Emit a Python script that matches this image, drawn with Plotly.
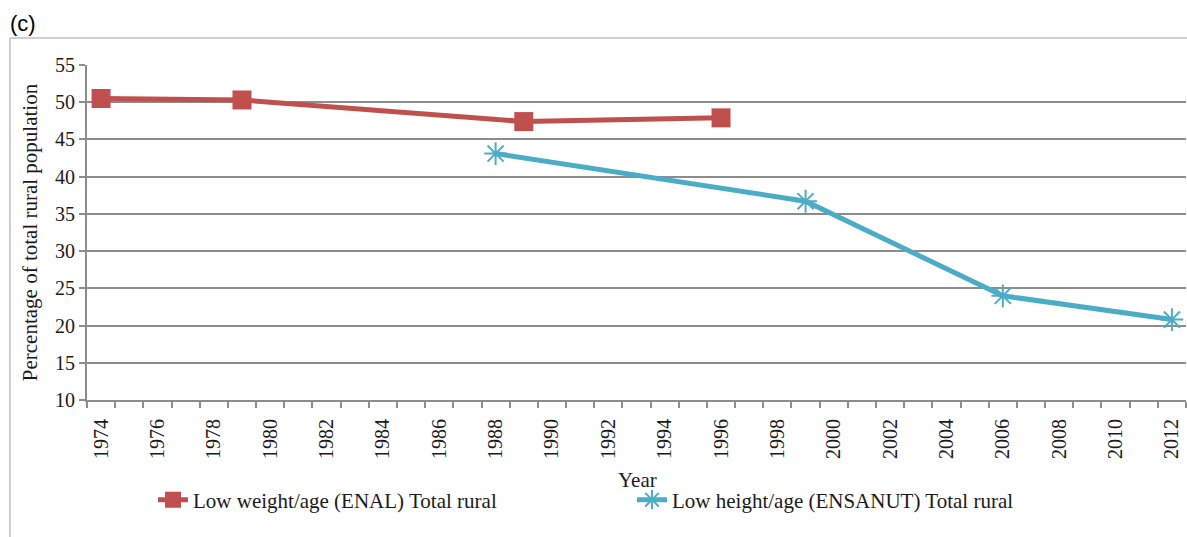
import plotly.graph_objects as go

# Datos (c)
years_enal = [1974, 1979, 1989, 1996]
low_weight_enal = [50.5, 50.3, 47.4, 47.9]

years_ensanut = [1988, 1999, 2006, 2012]
low_height_ensanut = [43.1, 36.7, 24.0, 20.8]

serif = "Liberation Serif, Times New Roman, serif"
grid_gray = "#8c8c8c"
fs = 20

fig = go.Figure()

fig.add_trace(go.Scatter(
    x=years_enal, y=low_weight_enal,
    mode="lines+markers",
    name="Low weight/age (ENAL) Total rural",
    line=dict(color="#C0504D", width=5),
    marker=dict(symbol="square", size=19, color="#C0504D"),
))

fig.add_trace(go.Scatter(
    x=years_ensanut, y=low_height_ensanut,
    mode="lines+markers",
    name="Low height/age (ENSANUT) Total rural",
    line=dict(color="#4BACC6", width=5),
    marker=dict(symbol="asterisk-open", size=19, color="#4BACC6",
                line=dict(color="#4BACC6", width=2)),
))

fig.update_layout(
    width=1187, height=537,
    margin=dict(l=87, r=1, t=65, b=137, autoexpand=False),
    plot_bgcolor="white", paper_bgcolor="white",
    font=dict(family=serif, size=fs, color="#1a1a1a"),
    showlegend=True,
    legend=dict(orientation="h", x=153 / 1187, xref="container", xanchor="left",
                y=1 - 500 / 537, yref="container", yanchor="middle",
                font=dict(family=serif, size=21), entrywidth=434,
                bgcolor="rgba(0,0,0,0)"),
)

fig.update_xaxes(
    range=[1973.5, 2012.5], automargin=False,
    tick0=1974, dtick=2, tickangle=-90, ticklabelstandoff=9,
    ticks="", showgrid=False,
    showline=True, linecolor=grid_gray, linewidth=2,
    minor=dict(ticks="outside", tick0=1973.5, dtick=1, ticklen=6,
               tickcolor=grid_gray, tickwidth=2, showgrid=False),
    tickfont=dict(family=serif, size=fs),
    zeroline=False,
)

fig.update_yaxes(
    range=[10, 55], tick0=10, dtick=5, automargin=False,
    showgrid=True, gridcolor=grid_gray, gridwidth=2,
    showline=True, linecolor=grid_gray, linewidth=2,
    ticks="outside", ticklen=6, tickcolor=grid_gray, tickwidth=2,
    tickfont=dict(family=serif, size=fs),
    title=dict(text="Percentage of total rural population",
               font=dict(family=serif, size=21), standoff=12),
    zeroline=False,
)

# Título del eje x, más abajo que la posición por defecto
fig.add_annotation(text="Year", xref="paper", yref="paper",
                   x=0.5005, y=-0.239, xanchor="center", yanchor="middle",
                   showarrow=False, font=dict(family=serif, size=21))

# Marco exterior del área del gráfico y etiqueta del panel
fig.add_shape(type="line", xref="paper", yref="paper",
              x0=-0.0701, x1=1.01, y0=1.0806, y1=1.0806,
              line=dict(color="#bfbfbf", width=1.5))
fig.add_shape(type="line", xref="paper", yref="paper",
              x0=-0.0701, x1=-0.0701, y0=1.0806, y1=-0.45,
              line=dict(color="#bfbfbf", width=1.5))
fig.add_annotation(text="(c)", xref="paper", yref="paper",
                   x=-0.072, y=1.08, xanchor="left", yanchor="bottom",
                   showarrow=False,
                   font=dict(family="Liberation Sans, Arial, sans-serif", size=22, color="black"))

# sin margen del body para que la figura quede en la esquina de la ventana
fig.write_html("out.html", config={"displayModeBar": False},
               post_script="document.body.style.margin='0';")
